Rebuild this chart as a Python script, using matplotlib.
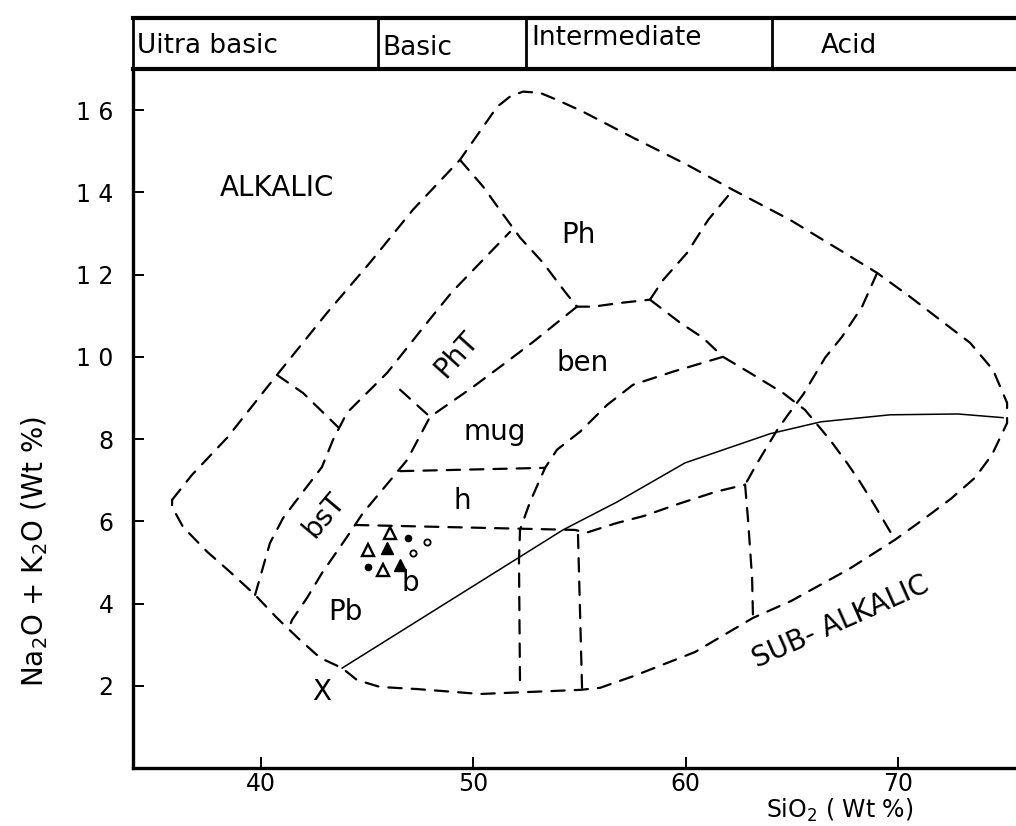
import matplotlib
matplotlib.use("Agg")
import matplotlib.pyplot as plt

# ---- data (SiO2 wt %, Na2O+K2O wt %) ----
envelope_x = [35.81, 36.75, 38.40, 40.75, 43.11, 45.13, 47.16, 49.37, 51.12, 51.73, 52.34, 53.14,
              53.94, 55.17, 57.52, 60.07, 62.23, 64.92, 67.41, 69.02, 70.57, 71.98, 73.40, 74.48,
              75.14, 75.14, 74.43, 73.63, 72.50, 71.23, 69.86, 67.70, 64.96, 63.17, 60.44, 57.57,
              55.97, 55.03, 50.32, 47.35, 45.61, 44.52, 43.82, 42.78, 41.74, 40.75, 39.72, 38.54,
              37.46, 36.33, 35.81, 35.81]
envelope_y = [6.52, 7.13, 8.03, 9.56, 11.07, 12.29, 13.58, 14.79, 16.08, 16.33, 16.45, 16.42,
              16.25, 15.96, 15.33, 14.67, 14.06, 13.33, 12.55, 12.04, 11.46, 10.90, 10.34, 9.68,
              8.88, 8.39, 7.62, 7.06, 6.55, 6.06, 5.55, 4.84, 4.06, 3.65, 2.82, 2.24,
              1.95, 1.90, 1.80, 1.92, 1.97, 2.14, 2.43, 2.68, 3.16, 3.65, 4.21, 4.77,
              5.26, 5.86, 6.35, 6.52]

# alkalic / sub-alkalic divide (solid)
divide_x = [43.82, 54.22, 56.77, 59.97, 63.98, 66.38, 69.63, 72.83, 74.95]
divide_y = [2.43, 5.79, 6.47, 7.42, 8.13, 8.42, 8.59, 8.61, 8.52]

# internal field boundaries (dashed)
boundaries = {
    "d2": ([39.72, 40.42, 41.04, 41.98, 42.87, 43.39, 44.05, 45.94, 47.82, 49.00, 51.73],
           [4.21, 5.47, 6.08, 6.72, 7.32, 7.98, 8.64, 9.61, 10.83, 11.58, 13.04]),
    "c1": ([40.75, 41.98, 43.67], [9.56, 9.12, 8.27]),
    "c2": ([49.37, 50.46, 51.35, 52.20, 53.28, 54.32, 54.88, 55.64, 56.91, 58.32],
           [14.79, 14.14, 13.50, 12.90, 12.29, 11.58, 11.22, 11.22, 11.31, 11.39]),
    "c3": ([58.32, 58.94, 60.07, 61.06, 62.23], [11.39, 11.87, 12.53, 13.33, 14.06]),
    "c4": ([58.32, 59.74, 60.82, 61.76, 63.03, 64.59, 65.62, 66.80, 67.60, 68.21, 68.83, 69.86],
           [11.39, 10.83, 10.46, 10.00, 9.61, 9.12, 8.71, 7.98, 7.42, 6.96, 6.45, 5.55]),
    "d3": ([54.88, 52.81, 51.40, 49.94, 47.96, 46.88, 45.98, 44.80, 44.05, 42.87, 42.17, 41.46, 41.32],
           [11.22, 10.36, 9.81, 9.25, 8.54, 7.49, 6.93, 6.20, 5.62, 4.74, 4.14, 3.60, 3.41]),
    "c5": ([46.55, 47.96], [9.20, 8.54]),
    "h_top": ([46.55, 53.38], [7.22, 7.30]),
    "e": ([61.76, 59.41, 57.52, 56.30, 55.03, 53.94, 53.38, 52.67, 52.20, 52.15, 52.20],
          [10.00, 9.64, 9.32, 8.83, 8.18, 7.74, 7.30, 6.47, 5.79, 5.06, 1.95]),
    "h_bottom": ([44.43, 54.79, 55.31, 56.77, 58.04, 59.64, 61.43, 62.80],
                 [5.91, 5.79, 5.72, 5.96, 6.13, 6.42, 6.72, 6.89]),
    "v2": ([54.93, 55.12], [5.67, 1.95]),
    "v3": ([62.80, 62.94, 63.13, 63.17], [6.89, 6.03, 4.62, 3.70]),
    "c6": ([69.02, 68.31, 67.37, 66.57, 65.53, 64.82, 64.31, 63.41, 62.80],
           [12.04, 11.22, 10.49, 9.98, 9.08, 8.59, 8.22, 7.45, 6.89]),
}

# samples
open_tri_x, open_tri_y = [46.08, 45.04, 45.75], [5.72, 5.30, 4.82]
solid_tri_x, solid_tri_y = [45.94, 46.55], [5.35, 4.94]
dot_x, dot_y = [46.92, 45.04], [5.60, 4.89]
ring_x, ring_y = [47.82, 47.16], [5.50, 5.23]

# field names and where they sit
field_labels = [("ALKALIC", 40.75, 14.11, 0), ("Ph", 54.95, 12.97, 0), ("ben", 55.17, 9.85, 0),
                ("mug", 51.02, 8.18, 0), ("h", 49.47, 6.50, 0), ("b", 47.05, 4.50, 0),
                ("Pb", 43.96, 3.80, 0), ("X", 42.87, 1.85, 0), ("PhT", 49.20, 10.05, 48),
                ("bsT", 42.95, 6.15, 50), ("SUB- ALKALIC", 67.30, 3.55, 24)]

# silica classes across the top
class_edges = [45.51, 52.49, 64.07]
class_names = [("Uitra basic", 34.15, 0.45, "left"), ("Basic", 45.72, 0.42, "left"),
               ("Intermediate", 52.72, 0.6, "left"), ("Acid", 67.7, 0.45, "center")]

x_ticks = [40, 50, 60, 70]
y_ticks = [2, 4, 6, 8, 10, 12, 14, 16]
y_tick_labels = ["2", "4", "6", "8", "1 0", "1 2", "1 4", "1 6"]

# ---- drawing ----
plt.rcParams['font.family'] = ['DejaVu Sans']
fig = plt.figure(figsize=(10.16, 8.26), dpi=100)
ax = fig.add_axes([133 / 1016, 58 / 826, 1 - 133 / 1016, 699 / 826])
axh = fig.add_axes([133 / 1016, 757 / 826, 1 - 133 / 1016, 51 / 826], sharex=ax)

dash = dict(color="black", lw=1.6, dashes=(6, 4.5), dash_capstyle="round")
ax.plot(envelope_x, envelope_y, **dash)
for bx, by in boundaries.values():
    ax.plot(bx, by, **dash)
ax.plot(divide_x, divide_y, color="black", lw=1.1)

ax.plot(open_tri_x, open_tri_y, ls="none", marker="^", ms=8.5, mfc="white", mec="black", mew=1.7)
ax.plot(solid_tri_x, solid_tri_y, ls="none", marker="^", ms=8.5, color="black")
ax.plot(dot_x, dot_y, ls="none", marker="o", ms=4.5, color="black")
ax.plot(ring_x, ring_y, ls="none", marker="o", ms=4.5, mfc="white", mec="black", mew=1.3)

for name, tx, ty, rot in field_labels:
    ax.text(tx, ty, name, fontsize=20, rotation=rot, ha="center", va="center",
            rotation_mode="anchor")

ax.set_xlim(33.97, 75.56)
ax.set_ylim(0, 17.0)
ax.set_xticks(x_ticks)
ax.set_xticklabels([str(t) for t in x_ticks], fontsize=17)
ax.set_yticks(y_ticks)
ax.set_yticklabels(y_tick_labels, fontsize=17)
ax.tick_params(direction="in", length=8, width=1.4, pad=14)
ax.tick_params(axis="x", pad=3)
for side in ("right", "top"):
    ax.spines[side].set_visible(False)
for side in ("left", "bottom"):
    ax.spines[side].set_linewidth(2.4)

ax.set_xlabel("SiO$_2$ ( Wt %)", fontsize=17)
ax.xaxis.set_label_coords(0.80, -0.041)
ax.set_ylabel("Na$_2$O + K$_2$O (Wt %)", fontsize=20)
ax.yaxis.set_label_coords(-0.094, 0.31)

# header strip
axh.set_ylim(0, 1)
for edge in class_edges:
    axh.axvline(edge, color="black", lw=2.0)
for name, tx, ty, ha in class_names:
    axh.text(tx, ty, name, fontsize=19, ha=ha, va="center")
axh.spines["right"].set_visible(False)
axh.spines["top"].set_linewidth(3.0)
axh.spines["bottom"].set_linewidth(3.0)
axh.spines["left"].set_linewidth(2.0)
axh.tick_params(left=False, bottom=False, labelleft=False, labelbottom=False)

fig.savefig("out.png", dpi=100)
